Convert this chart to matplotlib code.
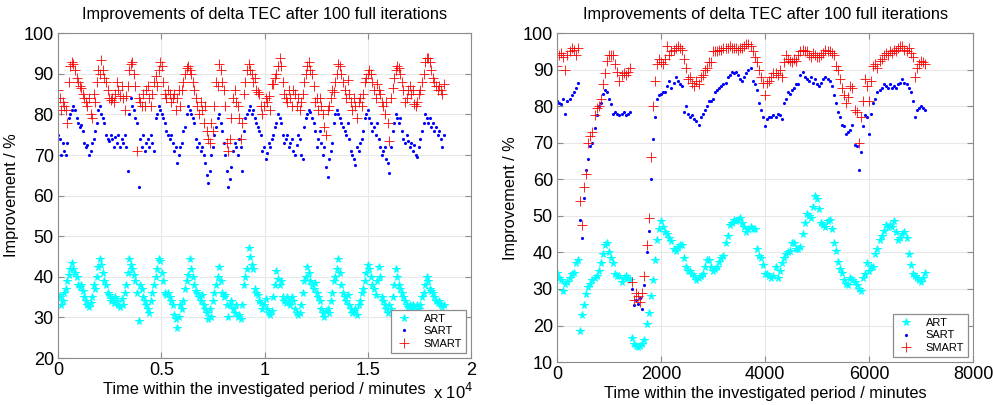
"""
Deux nuages de points : amélioration du delta TEC (ART, SART, SMART) après 100 itérations.
"""
import numpy as np
import matplotlib
matplotlib.use("Agg")
import matplotlib.pyplot as plt

plt.rcParams['font.family'] = ['Liberation Sans', 'DejaVu Sans']

# pas d'échantillonnage des deux périodes (minutes)
pas_gauche = 75
pas_droite = 40

# ---- période longue (gauche) ----
art_g = [35.5, 35, 33, 34, 36, 37, 39, 40.5, 42, 43.5, 42, 41, 40, 38, 37.5, 38, 36.5, 35, 34, 33,
         32.5, 33.5, 35, 38, 37, 40, 42.5, 44.5, 43, 41, 39, 38, 36, 35.5, 34, 34.5, 33.5, 35, 34, 33,
         32.5, 34.5, 33, 36, 38, 41, 44.5, 43, 42, 40.5, 39, 36, 29, 38, 37, 35, 34, 33, 32, 31,
         34, 36, 38, 40, 42, 44.5, 44, 41, 39, 36, 35.5, 36, 35, 34, 33, 30.5, 29.5, 27.5, 30, 33,
         32, 34, 37, 39, 40.5, 44.5, 42, 40, 38, 36.5, 36, 35, 34, 35.5, 33, 32, 31, 29.5, 32, 30,
         34, 36, 38, 40, 42.5, 39, 36, 35, 35.5, 33, 30, 33, 34, 32, 31, 33, 30, 30.5, 29.5, 33,
         38, 40, 42, 47, 45, 43, 42, 37, 36, 35.5, 34, 33.5, 32, 33, 34.5, 32, 31, 30.5, 31.5, 35,
         38, 41.5, 39.5, 38, 39, 35, 34, 33.5, 35, 34, 33, 35, 34, 32, 31, 30.5, 31, 33, 36, 39,
         40, 42.5, 41, 39, 38, 37, 38.5, 36, 35, 34, 32, 31, 30, 31.5, 32, 31, 34, 36, 39, 40,
         42, 44.5, 41, 38, 36, 35, 34, 35.5, 33, 32, 31, 31.5, 32, 30.5, 33, 34, 36, 37, 39, 41,
         43, 42, 40, 38, 37, 35.5, 39, 42.5, 40, 35, 34, 33, 32, 31, 33, 32, 35, 38, 42, 40,
         38, 37, 36, 35, 34, 33, 32.5, 33, 32, 33, 32.5, 31.5, 33, 32, 33, 35, 36, 38, 40, 39,
         37, 36.5, 36, 35, 34, 33.5, 34, 33, 32.5, 33]
sart_g = [75, 74, 70, 73, 71, 70, 73, 79, 80, 81, 82, 81, 79, 78, 77, 77.5, 76, 73, 72, 72.5,
          70, 71, 73, 74, 76, 78, 81, 82, 80, 79, 78, 75, 74, 73.5, 75, 74, 72, 74.5, 73, 75,
          72, 74, 73, 75, 72, 66, 80, 84, 82, 81, 79, 78, 62, 74, 72, 75, 71, 73, 74, 72,
          75, 73, 71, 79, 80, 82, 81, 80, 79, 78, 76, 75, 74, 75, 73, 71, 72, 68, 70, 72,
          73, 76, 77, 80, 82, 81, 80, 79, 78, 74, 72, 73, 71, 72, 70, 68, 65, 63, 66, 70,
          72, 75, 77, 79, 80, 78, 76, 73, 70, 66, 62, 64, 67, 71, 73, 72, 70, 74, 72, 66,
          76, 79, 80, 81, 82, 80, 81, 79, 78, 77, 76, 75, 71, 72, 69, 70.5, 73, 72, 74, 75,
          77, 78, 80, 79, 78, 75, 73, 74, 75, 72, 73, 74, 71, 70, 72.5, 75, 74, 70, 69, 77,
          79, 80, 81, 80.5, 79, 78, 76, 72, 74, 76, 73, 70, 72, 67, 64.5, 69, 71, 73, 78, 80,
          81, 80, 79, 78, 77, 76, 75, 78, 74, 71, 70, 69, 67.5, 72, 71, 73, 74, 76, 79, 80,
          81, 79, 78, 76, 77, 75, 78, 74, 72, 70, 71, 72, 69, 68, 65.5, 72, 76, 78, 80, 79,
          78, 79, 76, 74, 73, 75, 73.5, 72, 73, 71, 72.5, 70, 69.5, 72, 74, 76, 78, 80, 79, 78,
          79, 77, 78, 76, 77, 75, 76, 74, 72, 75]
smart_g = [86, 84, 81, 83, 82, 81, 78, 88, 92, 93, 92.5, 91, 89, 88, 87, 86.5, 85, 84, 83, 82,
           84, 80, 79, 85, 83, 88, 91, 90, 93.5, 91, 89, 88, 86, 84, 83.5, 84, 83, 85, 88, 86,
           84.5, 87, 84, 81, 84.5, 87, 91, 92.5, 93, 90, 87, 71, 84, 83, 82, 85, 82, 86, 87, 84,
           82, 85, 88, 89.5, 87, 91, 93, 92, 88, 85, 84, 86, 85, 83, 84, 85, 81, 84, 86, 82,
           86, 88, 90, 91.5, 92, 91, 90, 88, 86, 84, 82, 80, 83, 81, 78, 82, 76, 74, 73, 78,
           76, 82, 88, 87, 92.5, 91, 88, 86, 82, 73, 71, 74, 79, 84, 86, 83, 82, 79, 74, 78,
           85, 88, 91, 92.5, 91, 90, 88, 89, 86, 85.5, 85, 82, 80, 82, 84, 83, 84.5, 81, 87.5, 87.5,
           89, 90, 92, 94, 92, 88, 85, 84, 83, 86, 84, 82, 86, 85, 82, 84, 81, 83, 85, 88,
           90, 92, 93, 91, 90, 87, 83, 84, 81, 84, 82, 80, 77, 75, 81, 82, 84, 86, 85.5, 88,
           90, 92.5, 92, 90, 88, 86, 84, 88.5, 85, 83, 81, 84, 82, 79, 83, 84, 82, 85, 88, 89,
           90, 91, 90, 88, 86, 84, 87.5, 86, 85, 83, 82, 80, 83, 78, 73.5, 84, 86.5, 89, 91, 92,
           91.5, 90, 88, 86, 83, 84, 86, 87, 85, 86, 82.5, 82, 83, 85, 86, 88, 90, 93, 94, 94,
           93, 91, 89, 88, 87, 86, 87, 86, 85, 87.5]

# ---- période courte (droite) ----
art_d = [34.5, 33, 32.5, 29.5, 31.5, 32, 33, 34, 34.5, 37,
         38, 18.5, 23, 25.5, 28.5, 30.5, 31.5, 32.5, 33, 33.5,
         35, 37, 39.5, 42, 42.5, 40, 38.5, 37, 34, 33.5,
         33.5, 32, 33, 33.5, 33, 32.5, 16.5, 15, 14.5, 14,
         14.5, 15, 16, 20.5, 23.5, 28, 32.5, 38, 43.5, 46.5,
         48.5, 47, 45.5, 45, 44, 43, 41, 40.5, 41.5, 42,
         42, 38.5, 36, 35, 35, 34, 33.5, 32.5, 33, 33.5,
         34, 36, 38, 38, 36, 35, 35.5, 36, 37.5, 38.5,
         39, 42.5, 44.5, 47.5, 48, 49, 48.5, 49, 49.5, 48,
         47, 45.5, 46.5, 47, 46.5, 46.5, 41, 39, 38.5, 36.5,
         34, 34, 33.5, 33, 33.5, 36, 33, 35, 37, 38.5,
         39.5, 40, 40.5, 42.5, 42.5, 41, 41, 41.5, 45, 48,
         50.5, 50, 49.5, 52.5, 55.5, 54.5, 52, 48, 47.5, 47,
         48.5, 49, 46.5, 42.5, 40.5, 37.5, 35.5, 34.5, 32.5, 31.5,
         31, 33, 32.5, 32, 31, 30, 29.5, 33, 34, 37,
         35, 36, 36, 39.5, 41, 43.5, 44.5, 46, 47.5, 47,
         47.5, 47, 48.5, 45.5, 43.5, 44, 45, 45.5, 44, 39.5,
         36.5, 34, 33.5, 33, 32.5, 32, 33, 34.5]
sart_d = [81.5, 81, 80.5, 82, 78, 81.5, 82, 83, 84, 85,
          86.5, 49, 44, 55, 62.5, 65.5, 69, 70, 74, 77.5,
          80, 81, 83.5, 84.5, 84, 82, 80.5, 78, 78.5, 78,
          77.5, 78, 78.5, 77.5, 78, 78.5, 30, 25.5, 27, 26,
          27.5, 24.5, 31, 40, 46, 60, 71, 77, 82, 83,
          83.5, 84, 84, 85.5, 87, 85, 86.5, 88, 87, 86,
          85.5, 78.5, 80, 78, 77, 77.5, 76.5, 76, 75, 77,
          78, 79, 80, 81.5, 81.5, 82, 84, 84.5, 85, 85.5,
          86, 86.5, 88, 88.5, 89.5, 89, 89.5, 88.5, 87.5, 87,
          88, 89, 90, 90.5, 87, 86, 84.5, 81, 79, 77,
          74.5, 76.5, 77, 77, 77.5, 77, 78, 77.5, 76.5, 81,
          82, 84, 83.5, 84.5, 85, 86, 86, 88.5, 89.5, 88,
          87.5, 87, 88, 86.5, 87.5, 86, 85.5, 86.5, 87.5, 88,
          87.5, 87, 85.5, 83, 81, 78.5, 77, 75, 74.5, 72.5,
          73, 73.5, 75, 69.5, 69, 62.5, 67.5, 74.5, 77.5, 77,
          72.5, 78, 81, 82, 84, 84.5, 85, 86, 85.5, 85,
          86, 85, 85.5, 85, 86, 86.5, 87.5, 86.5, 86, 85,
          84, 81.5, 77, 79, 79.5, 80, 79.5, 79]
smart_d = [91, 94, 94.5, 93.5, 90, 94, 95, 96, 95.5, 94,
           96, 54, 47.5, 58, 61.5, 70, 72, 73, 77.5, 79.5,
           80, 82, 86, 89, 92.5, 94, 94, 94, 91.5, 89.5,
           87, 88.5, 89, 88.5, 89.5, 90.5, 32, 27, 29, 28,
           26.5, 29, 33.5, 42, 49.5, 66, 80, 87, 91.5, 93,
           92, 91.5, 93, 96.5, 94, 95, 95.5, 96, 96.5, 96,
           95.5, 93, 90.5, 87.5, 88, 86.5, 85.5, 87, 86, 88,
           88.5, 90, 90.5, 92, 92, 95, 95, 95, 95.5, 95.5,
           96, 96, 96, 96.5, 96, 96, 96, 95.5, 96, 96,
           96.5, 97, 97, 96.5, 95, 93.5, 92, 90, 88, 86.5,
           83, 86.5, 87, 88, 89, 89, 88.5, 90, 88, 92,
           94, 93, 92.5, 92, 93, 92.5, 94, 95, 95.5, 95,
           95, 94, 93.5, 94.5, 94, 93.5, 93.5, 94, 94.5, 95.5,
           95, 95, 94.5, 94, 91, 90, 87.5, 85, 83, 81,
           82.5, 85.5, 85, 79, 78.5, 70, 77, 81.5, 87.5, 85.5,
           81.5, 87, 91, 91.5, 90.5, 92.5, 93, 94, 94.5, 94,
           95, 94.5, 95.5, 95, 96, 96.5, 96.5, 95.5, 95, 96,
           94.5, 93.5, 88, 90.5, 91.5, 92.5, 92, 91.5]

temps_g = np.arange(len(art_g)) * pas_gauche
temps_d = np.arange(len(art_d)) * pas_droite

titre = "Improvements of delta TEC after 100 full iterations"
gris = "#8c8c8c"


def tracer(ax, t, art, sart, smart):
    """Dessine les trois séries façon MATLAB sur un axe."""
    ax.plot(t, art, linestyle='none', marker='*', color='#00ffff', ms=5.5, mew=0.7, label='ART')
    ax.plot(t, sart, linestyle='none', marker='.', color='#0000ff', ms=2.5, label='SART')
    ax.plot(t, smart, linestyle='none', marker='+', color='#ff0000', mec='#ff0000',
            ms=6.5, mew=0.6, label='SMART')
    ax.grid(True, color='#e8e8e8', lw=0.8)
    ax.set_axisbelow(True)
    for s in ax.spines.values():
        s.set_color(gris)
    ax.tick_params(direction='in', top=True, right=True, color=gris, labelsize=13,
                   length=4, pad=3)
    ax.set_title(titre, fontsize=11.8, pad=10)
    ax.set_xlabel("Time within the investigated period / minutes", fontsize=11.8, labelpad=2)
    ax.set_ylabel("Improvement / %", fontsize=11.8, labelpad=3)
    leg = ax.legend(loc='lower right', fontsize=8, fancybox=False, edgecolor=gris,
                    framealpha=1, borderaxespad=0.45, handletextpad=1.0, labelspacing=0.25,
                    handlelength=1.6, borderpad=0.35)
    leg.get_frame().set_linewidth(0.9)


fig = plt.figure(figsize=(9.93, 4.05), dpi=100)
ax1 = fig.add_axes([0.0584, 0.116, 0.416, 0.802])
ax2 = fig.add_axes([0.561, 0.106, 0.419, 0.812])

tracer(ax1, temps_g, art_g, sart_g, smart_g)
ax1.set_xlim(0, 20000)
ax1.set_ylim(20, 100)
ax1.set_xticks([0, 5000, 10000, 15000, 20000])
ax1.set_xticklabels(["0", "0.5", "1", "1.5", "2"])
ax1.set_yticks(range(20, 101, 10))
ax1.text(1.005, -0.103, r"x 10$^4$", transform=ax1.transAxes, ha='right', va='center',
         fontsize=12)

tracer(ax2, temps_d, art_d, sart_d, smart_d)
ax2.set_xlim(0, 8000)
ax2.set_ylim(10, 100)
ax2.set_xticks(range(0, 8001, 2000))
ax2.set_yticks(range(10, 101, 10))

fig.savefig("out.png", dpi=100)
